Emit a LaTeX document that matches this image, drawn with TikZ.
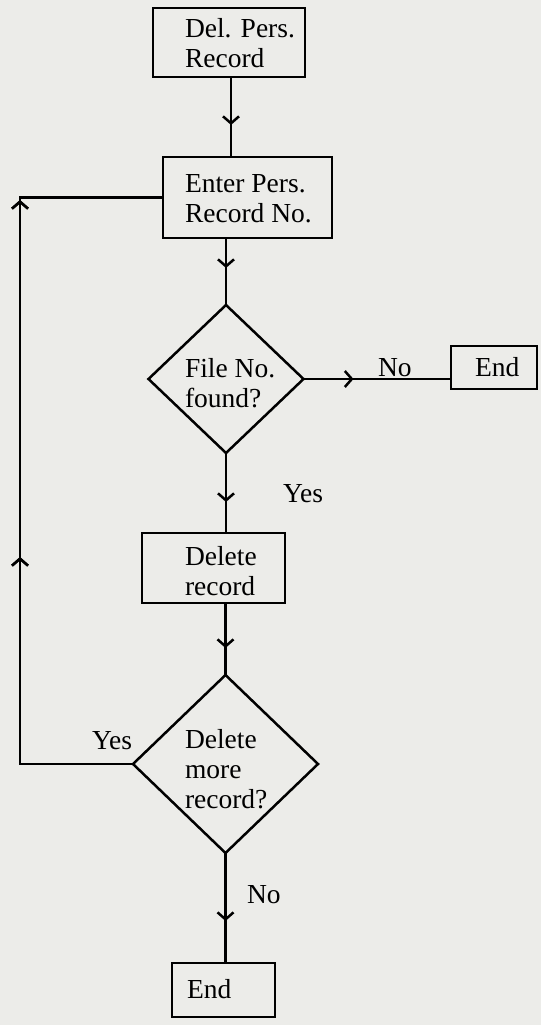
\documentclass[tikz,border=0pt]{standalone}
\usepackage{fontspec}
\setmainfont{Liberation Serif}
\usetikzlibrary{shapes.geometric,arrows.meta,decorations.markings,calc}
\definecolor{paper}{RGB}{236,236,233}
\begin{document}
\begin{tikzpicture}[x=1pt,y=-1pt,
  line width=2.5pt,
  every node/.style={inner sep=0pt,outer sep=0pt},
  boxshape/.style={draw,rectangle},
  decshape/.style={draw,diamond,aspect=1},
  txt/.style={anchor=base west,align=left,font=\fontsize{27.5}{30}\selectfont},
  arrowat/.style={postaction={decorate},decoration={markings,
     mark=at position #1 with {\arrow{Straight Barb[length=7pt,width=16pt]}}}}]
\fill[paper] (0,0) rectangle (541,1025);
\useasboundingbox (0,0) rectangle (541,1025);
% shapes
\node[boxshape,minimum width=152pt,minimum height=69pt] (b1) at (229,42.5) {};
\node[boxshape,minimum width=169pt,minimum height=81pt] (b2) at (247.5,197.5) {};
\node[decshape,minimum width=155pt,minimum height=148pt] (d1) at (226,379) {};
\node[boxshape,minimum width=86pt,minimum height=43pt] (e1) at (494,367.5) {};
\node[boxshape,minimum width=143pt,minimum height=70pt] (b3) at (213.5,568) {};
\node[decshape,minimum width=185pt,minimum height=178pt] (d2) at (225.5,764) {};
\node[boxshape,minimum width=103pt,minimum height=54pt] (e2) at (223.5,990) {};
% texts (anchor = baseline of last line)
\node[txt] (t1) at (185,67) {Del. Pers.\\Record};
\node[txt] (t2) at (185,222) {Enter Pers.\\Record No.};
\node[txt] (t3) at (185,407) {File No.\\found?};
\node[txt] (t4) at (475,376) {End};
\node[txt] (t5) at (185,595) {Delete\\record};
\node[txt] (t6) at (185,808) {Delete\\more\\record?};
\node[txt] (t7) at (187,998) {End};
\node[txt] (l1) at (378,376) {No};
\node[txt] (l2) at (283,502) {Yes};
\node[txt] (l3) at (92,749) {Yes};
\node[txt] (l4) at (247,903) {No};
% connectors
\coordinate (c1) at (20,764);
\coordinate (c2) at (20,198);
\draw[arrowat=48pt] (b1.south -| 231,0) -- (b2.north -| 231,0);
\draw[arrowat=30pt] (b2.south -| d1.north) -- (d1.north);
\draw[arrowat=50pt] (d1.east) -- (d1.east -| e1.west);
\draw[arrowat=49pt] (d1.south) -- (d1.south |- b3.north);
\draw[arrowat=45pt] (b3.south -| d2.north) -- (d2.north);
\draw[arrowat=68pt] (d2.south) -- (d2.south |- e2.north);
\draw[arrowat=320pt,arrowat=677pt] (d2.west) -- (c1) -- (c2) -- (c2 |- b2.west) -- (b2.west);
\end{tikzpicture}
\end{document}
